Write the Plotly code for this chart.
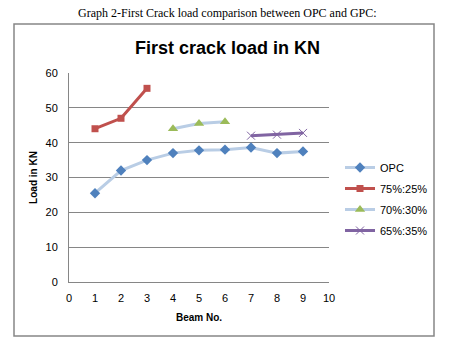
import plotly.graph_objects as go

beams_opc = [1, 2, 3, 4, 5, 6, 7, 8, 9]
opc = [25.5, 32, 35, 37, 37.8, 38, 38.6, 37, 37.5]
beams_75 = [1, 2, 3]
mix_75_25 = [44, 47, 55.6]
beams_70 = [4, 5, 6]
mix_70_30 = [44, 45.5, 46]
beams_65 = [7, 8, 9]
mix_65_35 = [42, 42.3, 42.8]

W, H = 457, 347
L, R, T, B = 69, 128, 73, 65
pw, ph = W - L - R, H - T - B

def px(x):
    return (x - L) / pw

def py(y):
    return (H - B - y) / ph

font = "Liberation Sans, DejaVu Sans, sans-serif"

fig = go.Figure()
fig.add_trace(go.Scatter(x=beams_opc, y=opc, name="OPC", mode="lines+markers",
                         line=dict(color="#b9cde5", width=3),
                         marker=dict(symbol="diamond", size=8, color="#4f81bd")))
fig.add_trace(go.Scatter(x=beams_75, y=mix_75_25, name="75%:25%", mode="lines+markers",
                         line=dict(color="#c0504d", width=3),
                         marker=dict(symbol="square", size=7, color="#c0504d")))
fig.add_trace(go.Scatter(x=beams_70, y=mix_70_30, name="70%:30%", mode="lines+markers",
                         line=dict(color="#b9cde5", width=3),
                         marker=dict(symbol="triangle-up", size=9, color="#9bbb59")))
fig.add_trace(go.Scatter(x=beams_65, y=mix_65_35, name="65%:35%", mode="lines+markers",
                         line=dict(color="#8064a2", width=3),
                         marker=dict(symbol="x-thin", size=8, color="#8064a2",
                                     line=dict(color="#8064a2", width=1))))

fig.update_layout(
    width=W, height=H,
    margin=dict(l=L, r=R, t=T, b=B),
    paper_bgcolor="white", plot_bgcolor="white",
    font=dict(family=font, size=11, color="black"),
    showlegend=True,
    legend=dict(x=px(340), y=py(153), xanchor="left", yanchor="top",
                font=dict(family=font, size=11, color="black"),
                itemwidth=30, tracegroupgap=2, bgcolor="rgba(0,0,0,0)"),
    xaxis=dict(range=[0, 10], dtick=1, tick0=0, showgrid=False, zeroline=False,
               showline=True, linecolor="#868686", linewidth=1,
               ticks="", ticklabelstandoff=6, tickfont=dict(size=11, family=font),
               title=dict(text="<b>Beam No.</b>", font=dict(size=10, family=font), standoff=10)),
    yaxis=dict(range=[0, 60], dtick=10, tick0=0, showgrid=True, gridcolor="#868686",
               gridwidth=1, zeroline=False, showline=True, linecolor="#868686",
               linewidth=1, ticks="", ticklabelstandoff=8, tickfont=dict(size=11, family=font),
               title=dict(text="<b>Load in KN</b>", font=dict(size=10, family=font), standoff=6)),
    shapes=[dict(type="rect", xref="paper", yref="paper",
                 x0=px(14), x1=px(434), y0=py(336), y1=py(24),
                 line=dict(color="#868686", width=1.5), layer="below")],
    annotations=[
        dict(text="Graph 2-First Crack load comparison between OPC and GPC:",
             xref="paper", yref="paper", x=px(227), y=py(13), showarrow=False,
             xanchor="center", yanchor="middle",
             font=dict(family="Liberation Serif, Times New Roman, serif", size=12, color="black")),
        dict(text="<b>First crack load in KN</b>",
             xref="paper", yref="paper", x=px(227), y=py(48), showarrow=False,
             xanchor="center", yanchor="middle",
             font=dict(family=font, size=18, color="black")),
    ],
)

for i, tr in enumerate(fig.data):
    tr.legendgroup = str(i)

fig.write_html("out.html")
